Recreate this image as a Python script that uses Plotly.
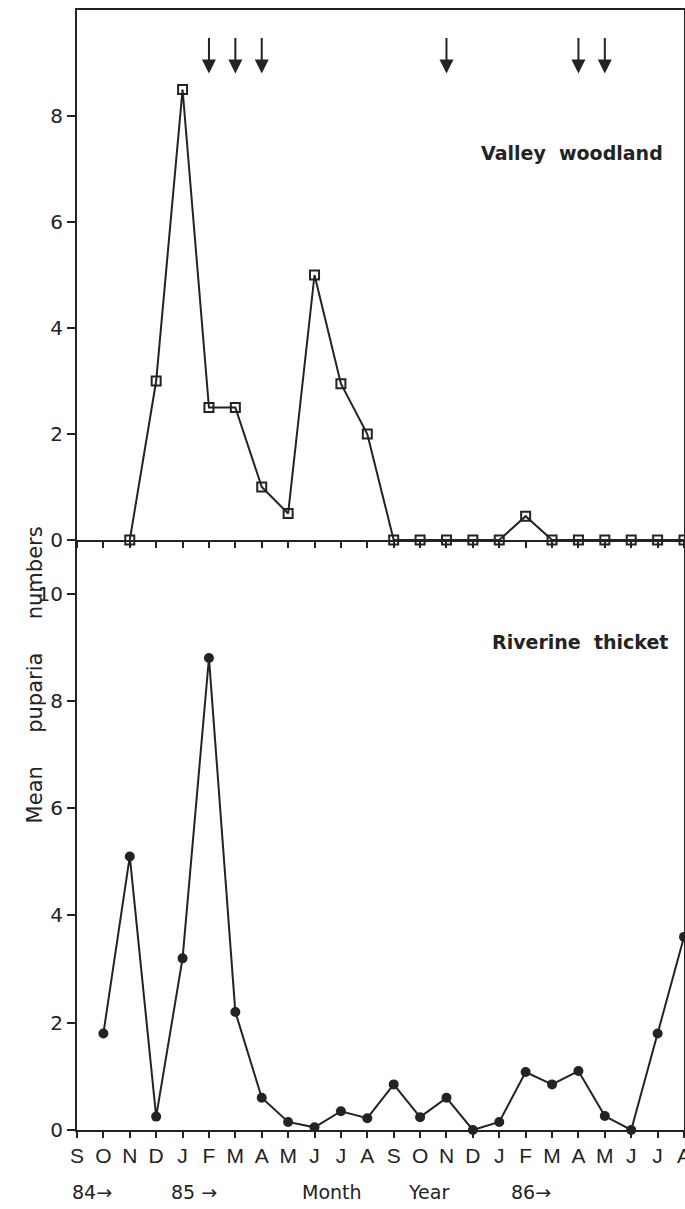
import plotly.graph_objects as go

# Month sequence Sep 1984 - Aug 1986
month_letters = ["S", "O", "N", "D", "J", "F", "M", "A", "M", "J", "J", "A",
                 "S", "O", "N", "D", "J", "F", "M", "A", "M", "J", "J", "A"]
month_index = list(range(len(month_letters)))

# Valley woodland (open squares), Nov 1984 - Aug 1986
valley_months = list(range(2, 24))
valley_values = [0.0, 3.0, 8.5, 2.5, 2.5, 1.0, 0.5, 5.0, 2.95, 2.0,
                 0.0, 0.0, 0.0, 0.0, 0.0, 0.45, 0.0, 0.0, 0.0, 0.0, 0.0, 0.0]

# Riverine thicket (filled circles), Oct 1984 - Aug 1986
riverine_months = list(range(1, 24))
riverine_values = [1.8, 5.1, 0.25, 3.2, 8.8, 2.2, 0.6, 0.15, 0.05, 0.35, 0.22,
                   0.85, 0.24, 0.6, 0.0, 0.15, 1.08, 0.85, 1.1, 0.26, 0.0, 1.8, 3.6]

# Months marked with arrows in the upper panel
arrow_months = [5, 6, 7, 14, 19, 20]

# Year markers under the month axis
year_labels = ["84\u2192", "85 \u2192", "Month", "Year", "86\u2192"]
year_label_x = [0.55, 4.45, 9.65, 13.3, 17.2]

INK = "#232323"
FONT = "DejaVu Sans"

fig = go.Figure()

fig.add_trace(go.Scatter(
    x=valley_months, y=valley_values, xaxis="x2", yaxis="y2",
    mode="lines+markers", cliponaxis=False,
    line=dict(color=INK, width=2),
    marker=dict(symbol="square-open", size=9, color=INK, line=dict(width=2)),
    showlegend=False,
))

fig.add_trace(go.Scatter(
    x=riverine_months, y=riverine_values, xaxis="x", yaxis="y",
    mode="lines+markers", cliponaxis=False,
    line=dict(color=INK, width=2),
    marker=dict(symbol="circle", size=10, color=INK),
    showlegend=False,
))

split = 590 / 1120  # share of plot height taken by the lower panel

axis_common = dict(showline=True, linecolor=INK, linewidth=2, mirror=True,
                   ticks="outside", tickcolor=INK, tickwidth=2,
                   showgrid=False, zeroline=False, automargin=False)

fig.update_layout(
    width=685, height=1209,
    margin=dict(l=77, r=1, t=10, b=79),
    paper_bgcolor="white", plot_bgcolor="white",
    font=dict(family=FONT, color=INK),
    xaxis=dict(axis_common, mirror=False, domain=[0, 1], anchor="y", range=[0, 23],
               tickvals=month_index, ticktext=month_letters, ticklen=6,
               ticklabeloverflow="allow",
               tickfont=dict(size=21, family="Liberation Sans", color=INK)),
    yaxis=dict(axis_common, domain=[0, split], anchor="x", range=[0, 11.0],
               tickvals=[0, 2, 4, 6, 8, 10], ticklen=8,
               tickfont=dict(size=20, color=INK)),
    xaxis2=dict(axis_common, domain=[0, 1], anchor="y2", range=[0, 23],
                tickvals=month_index, showticklabels=False, ticklen=6),
    yaxis2=dict(axis_common, domain=[split, 1], anchor="x2", range=[0, 10.0],
                tickvals=[0, 2, 4, 6, 8], ticklen=8,
                tickfont=dict(size=20, color=INK)),
)

annotations = []
for m in arrow_months:
    annotations.append(dict(
        x=m, y=8.8, ax=m, ay=9.5, xref="x2", yref="y2", axref="x2", ayref="y2",
        showarrow=True, arrowhead=2, arrowsize=1.4, arrowwidth=2,
        arrowcolor=INK, text="",
    ))

annotations.append(dict(
    x=18.75, y=7.3, xref="x2", yref="y2", text="<b>Valley  woodland</b>",
    xanchor="center", yanchor="middle",
    showarrow=False, font=dict(size=19, family=FONT, color=INK),
))
annotations.append(dict(
    x=19.05, y=9.1, xref="x", yref="y", text="<b>Riverine  thicket</b>",
    xanchor="center", yanchor="middle",
    showarrow=False, font=dict(size=19, family=FONT, color=INK),
))
annotations.append(dict(
    x=-0.069, y=0.406, xref="paper", yref="paper",
    xanchor="center", yanchor="middle",
    text="Mean     puparia     numbers", textangle=-90, showarrow=False,
    font=dict(size=21, family=FONT, color=INK),
))
for label, lx in zip(year_labels, year_label_x):
    annotations.append(dict(
        x=lx, y=-0.0554, xref="x", yref="paper", text=label,
        xanchor="center", yanchor="middle",
        showarrow=False, font=dict(size=19, family=FONT, color=INK),
    ))

fig.update_layout(annotations=annotations)

fig.write_html("out.html")
